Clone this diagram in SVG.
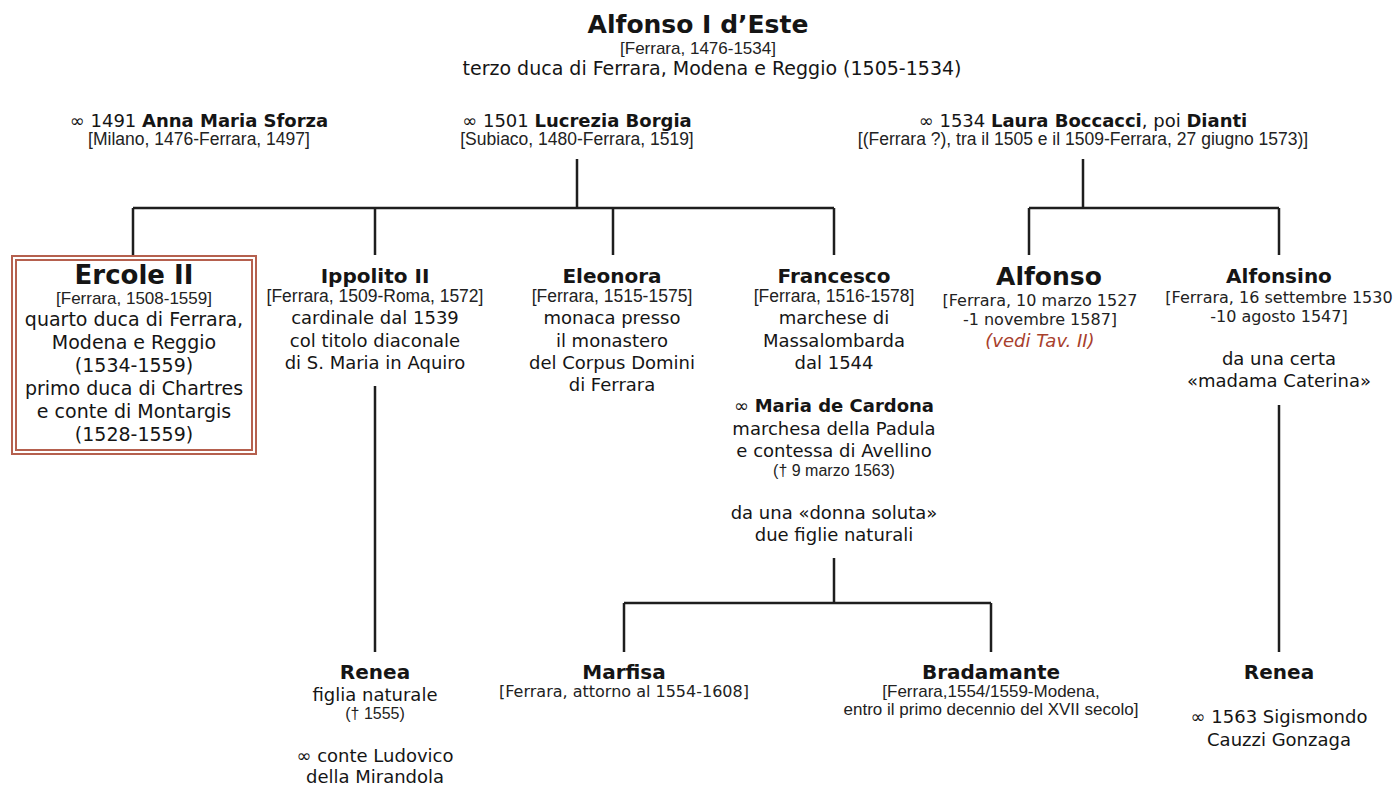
<svg xmlns="http://www.w3.org/2000/svg" width="1396" height="786" viewBox="0 0 1396 786">
<style>
  text { font-family: "DejaVu Sans", Verdana, sans-serif; fill: #151515; text-anchor: middle; }
  .t { font-size: 18px; }
  .big { font-size: 19px; }
  .nm { font-size: 20px; font-weight: bold; }
  .b { font-weight: bold; }
  .br { font-family: "Liberation Sans", Arial, sans-serif; font-size: 17.5px; fill: #222; }
  .brv { font-size: 16px; fill: #222; }
  .red { fill: #a8402c; font-style: italic; font-size: 18px; }
  .ln { stroke: #1e1e1e; stroke-width: 2.5; fill: none; }
  .box { fill: none; stroke: #b5604e; stroke-width: 2; }
</style>
<rect width="1396" height="786" fill="#ffffff"/>

<g id="connectors">
  <path class="ln" d="M577,159 V208 M133,208 H834 M133,208 V256 M375,208 V255 M613,208 V255 M834,208 V255"/>
  <path class="ln" d="M1083,159 V208 M1029,208 H1279 M1029,208 V255 M1279,208 V255"/>
  <path class="ln" d="M375,386 V652"/>
  <path class="ln" d="M1279,405 V652"/>
  <path class="ln" d="M834,558 V603 M624,603 H991 M624,603 V652 M991,603 V652"/>
</g>

<g id="alfonso-i">
  <text x="698" y="33" class="b" style="font-size:25px">Alfonso I d’Este</text>
  <text x="698" y="54" class="br" style="font-size:17px">[Ferrara, 1476-1534]</text>
  <text x="712" y="75" class="big">terzo duca di Ferrara, Modena e Reggio (1505-1534)</text>
</g>

<g id="anna-maria-sforza">
  <text x="199" y="127" class="t">∞ 1491 <tspan class="b">Anna Maria Sforza</tspan></text>
  <text x="199" y="145" class="br">[Milano, 1476-Ferrara, 1497]</text>
</g>

<g id="lucrezia-borgia">
  <text x="577" y="127" class="t">∞ 1501 <tspan class="b">Lucrezia Borgia</tspan></text>
  <text x="577" y="145" class="br">[Subiaco, 1480-Ferrara, 1519]</text>
</g>

<g id="laura-dianti">
  <text x="1083" y="127" class="t">∞ 1534 <tspan class="b">Laura Boccacci</tspan>, poi <tspan class="b">Dianti</tspan></text>
  <text x="1083" y="145" class="br">[(Ferrara ?), tra il 1505 e il 1509-Ferrara, 27 giugno 1573)]</text>
</g>

<g id="ercole-ii">
  <rect class="box" x="12" y="256" width="244" height="198"/>
  <rect class="box" x="16" y="260" width="236" height="190"/>
  <text x="134" y="284" class="b" style="font-size:26px">Ercole II</text>
  <text x="134" y="304" class="br" style="font-size:17px">[Ferrara, 1508-1559]</text>
  <text x="134" y="326" class="big">quarto duca di Ferrara,</text>
  <text x="134" y="349" class="big">Modena e Reggio</text>
  <text x="134" y="372" class="big">(1534-1559)</text>
  <text x="134" y="395" class="big">primo duca di Chartres</text>
  <text x="134" y="418" class="big">e conte di Montargis</text>
  <text x="134" y="441" class="big">(1528-1559)</text>
</g>

<g id="ippolito-ii">
  <text x="375" y="283" class="nm">Ippolito II</text>
  <text x="375" y="302" class="br">[Ferrara, 1509-Roma, 1572]</text>
  <text x="375" y="324" class="t">cardinale dal 1539</text>
  <text x="375" y="347" class="t">col titolo diaconale</text>
  <text x="375" y="369" class="t">di S. Maria in Aquiro</text>
</g>

<g id="eleonora">
  <text x="612" y="283" class="nm">Eleonora</text>
  <text x="612" y="302" class="br">[Ferrara, 1515-1575]</text>
  <text x="612" y="324" class="t">monaca presso</text>
  <text x="612" y="347" class="t">il monastero</text>
  <text x="612" y="369" class="t">del Corpus Domini</text>
  <text x="612" y="391" class="t">di Ferrara</text>
</g>

<g id="francesco">
  <text x="834" y="283" class="nm">Francesco</text>
  <text x="834" y="302" class="br">[Ferrara, 1516-1578]</text>
  <text x="834" y="324" class="t">marchese di</text>
  <text x="834" y="347" class="t">Massalombarda</text>
  <text x="834" y="369" class="t">dal 1544</text>
  <text x="834" y="412" class="t">∞ <tspan class="b">Maria de Cardona</tspan></text>
  <text x="834" y="435" class="t">marchesa della Padula</text>
  <text x="834" y="457" class="t">e contessa di Avellino</text>
  <text x="834" y="476" class="br" style="font-size:16px">(† 9 marzo 1563)</text>
  <text x="834" y="519" class="t">da una «donna soluta»</text>
  <text x="834" y="541" class="t">due figlie naturali</text>
</g>

<g id="alfonso">
  <text x="1049" y="285" class="b" style="font-size:25px">Alfonso</text>
  <text x="1040" y="306" class="brv">[Ferrara, 10 marzo 1527</text>
  <text x="1040" y="325" class="brv">-1 novembre 1587]</text>
  <text x="1040" y="347" class="red">(vedi Tav. II)</text>
</g>

<g id="alfonsino">
  <text x="1279" y="283" class="nm">Alfonsino</text>
  <text x="1279" y="303" class="brv">[Ferrara, 16 settembre 1530</text>
  <text x="1279" y="322" class="brv">-10 agosto 1547]</text>
  <text x="1279" y="365" class="t">da una certa</text>
  <text x="1279" y="387" class="t">«madama Caterina»</text>
</g>

<g id="renea-1">
  <text x="375" y="679" class="nm">Renea</text>
  <text x="375" y="701" class="t">figlia naturale</text>
  <text x="375" y="719" class="br" style="font-size:16px">(† 1555)</text>
  <text x="375" y="762" class="t">∞ conte Ludovico</text>
  <text x="375" y="783" class="t">della Mirandola</text>
</g>

<g id="marfisa">
  <text x="624" y="679" class="nm">Marfisa</text>
  <text x="624" y="697" class="brv">[Ferrara, attorno al 1554-1608]</text>
</g>

<g id="bradamante">
  <text x="991" y="679" class="nm">Bradamante</text>
  <text x="991" y="697" class="br" style="font-size:17px">[Ferrara,1554/1559-Modena,</text>
  <text x="991" y="715" class="br" style="font-size:17px">entro il primo decennio del XVII secolo]</text>
</g>

<g id="renea-2">
  <text x="1279" y="679" class="nm">Renea</text>
  <text x="1279" y="723" class="t">∞ 1563 Sigismondo</text>
  <text x="1279" y="746" class="t">Cauzzi Gonzaga</text>
</g>
</svg>
